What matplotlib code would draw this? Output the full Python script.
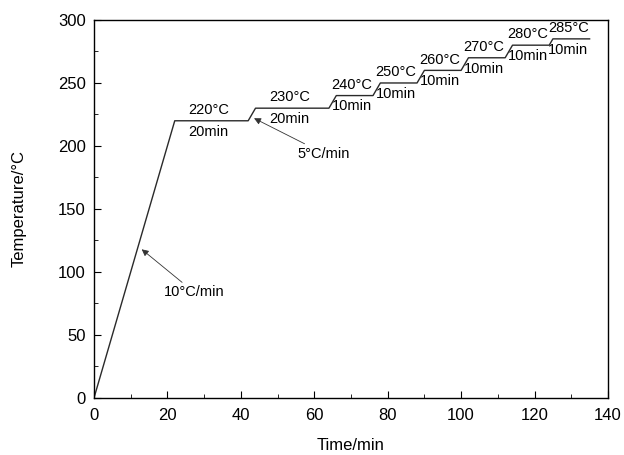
import matplotlib
matplotlib.use("Agg")
import matplotlib.pyplot as plt
from matplotlib.ticker import MultipleLocator

plt.rcParams['font.family'] = ['Liberation Sans', 'DejaVu Sans']

time = [0, 22, 42, 44, 64, 66, 76, 78, 88, 90, 100, 102, 112, 114, 124, 125, 135]
temp = [0, 220, 220, 230, 230, 240, 240, 250, 250, 260, 260, 270, 270, 280, 280, 285, 285]

plateau_temps = [220, 230, 240, 250, 260, 270, 280, 285]
plateau_starts = [22, 44, 66, 78, 90, 102, 114, 125]
plateau_ends = [42, 64, 76, 88, 100, 112, 124, 135]
durations = ["20min", "20min", "10min", "10min", "10min", "10min", "10min", "10min"]

fig = plt.figure(figsize=(6.24, 4.55), dpi=100)
ax = fig.add_axes([0.1506, 0.1253, 0.8237, 0.8308])
ax.plot(time, temp, color='#2a2a2a', lw=1.0)

for T, s, e, d in zip(plateau_temps, plateau_starts, plateau_ends, durations):
    xc = (s + e) / 2 - 0.8
    ax.text(xc, T + 3, f"{T}°C", ha='center', va='bottom', fontsize=10.5)
    ax.text(xc, T - 3, d, ha='center', va='top', fontsize=10.5)

ax.annotate("10°C/min", xy=(13, 118), xytext=(19, 84), fontsize=10.5,
            ha='left', va='center',
            arrowprops=dict(arrowstyle='-|>', color='#333333', lw=0.6,
                            shrinkA=0, shrinkB=0, mutation_scale=10))
ax.annotate("5°C/min", xy=(43.6, 222), xytext=(55.5, 194), fontsize=10.5,
            ha='left', va='center',
            arrowprops=dict(arrowstyle='-|>', color='#333333', lw=0.6,
                            shrinkA=0, shrinkB=0, mutation_scale=10))

ax.set_xlim(0, 140)
ax.set_ylim(0, 300)
ax.xaxis.set_major_locator(MultipleLocator(20))
ax.xaxis.set_minor_locator(MultipleLocator(10))
ax.yaxis.set_major_locator(MultipleLocator(50))
ax.yaxis.set_minor_locator(MultipleLocator(25))
ax.tick_params(which='both', direction='in', labelsize=12, top=False, right=False)
ax.tick_params(which='major', length=5)
ax.tick_params(which='minor', length=3)
ax.tick_params(axis='x', pad=7)
ax.tick_params(axis='y', pad=6)
ax.set_xlabel("Time/min", fontsize=12)
ax.set_ylabel("Temperature/°C", fontsize=12)
ax.xaxis.set_label_coords(0.5, -0.127)
ax.yaxis.set_label_coords(-0.146, 0.5)
ax.xaxis.label.set_va('center')
ax.yaxis.label.set_va('center')
for sp in ax.spines.values():
    sp.set_linewidth(1.0)

fig.savefig("out.png", dpi=100)
